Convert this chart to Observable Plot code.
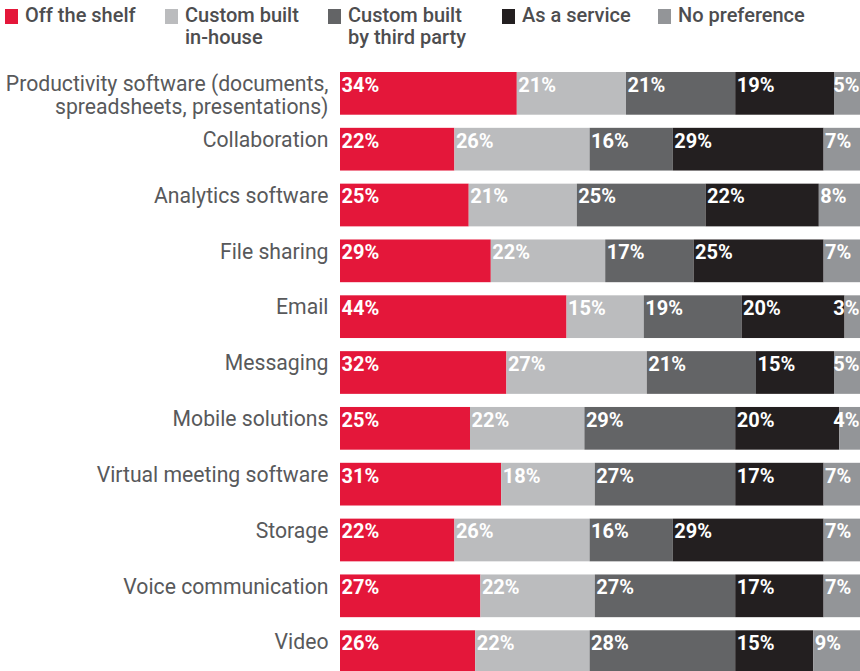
<!DOCTYPE html>
<html>
<head>
<meta charset="utf-8">
<script src="https://cdn.jsdelivr.net/npm/d3@7"></script>
<script src="https://cdn.jsdelivr.net/npm/@observablehq/plot@0.6"></script>
<style>
  html, body { margin: 0; padding: 0; background: #fff; overflow: hidden; }
  #legend { position: relative; width: 860px; height: 60px; font-family: Roboto, sans-serif; font-weight: 500; font-size: 20px; color: #4d4d4f; }
  .item { position: absolute; top: 4px; display: flex; align-items: flex-start; }
  .sw { width: 13px; height: 15px; margin-top: 5px; margin-right: 7px; flex: none; }
  .lab { line-height: 22px; white-space: pre; }
  svg { display: block; }
</style>
</head>
<body>
<div id="legend"></div>
<div id="chart"></div>
<script>
const categories = [
  "Productivity software (documents,\nspreadsheets, presentations)",
  "Collaboration",
  "Analytics software",
  "File sharing",
  "Email",
  "Messaging",
  "Mobile solutions",
  "Virtual meeting software",
  "Storage",
  "Voice communication",
  "Video"
];
const seriesNames = ["Off the shelf", "Custom built\nin-house", "Custom built\nby third party", "As a service", "No preference"];
const colors = ["#e4173a", "#bbbcbe", "#636466", "#231f20", "#939598"];
const offTheShelf   = [34, 22, 25, 29, 44, 32, 25, 31, 22, 27, 26];
const inHouse       = [21, 26, 21, 22, 15, 27, 22, 18, 26, 22, 22];
const thirdParty    = [21, 16, 25, 17, 19, 21, 29, 27, 16, 27, 28];
const asAService    = [19, 29, 22, 25, 20, 15, 20, 17, 29, 17, 15];
const noPreference  = [5, 7, 8, 7, 3, 5, 4, 7, 7, 7, 9];
const seriesValues = [offTheShelf, inHouse, thirdParty, asAService, noPreference];

const legendLeft = [5, 165, 328, 502, 658];

const data = [];
categories.forEach((c, i) => {
  seriesNames.forEach((s, j) => {
    data.push({cat: c, series: s, idx: j, value: seriesValues[j][i]});
  });
});

// legend
const leg = document.getElementById("legend");
seriesNames.forEach((s, j) => {
  const it = document.createElement("div");
  it.className = "item";
  it.style.left = legendLeft[j] + "px";
  const sw = document.createElement("div");
  sw.className = "sw";
  sw.style.background = colors[j];
  const lb = document.createElement("div");
  lb.className = "lab";
  lb.textContent = s;
  it.appendChild(sw); it.appendChild(lb);
  leg.appendChild(it);
});

const height = 613, marginTop = 12;
const paddingInner = 0.235;
const step = (height - marginTop) / (categories.length - paddingInner);
const bw = step * (1 - paddingInner);

const stackOpts = {x: "value", y: "cat", z: "series", order: "idx", offset: "normalize"};
// a label too wide for its narrow last segment is pinned to the bar's right end
const narrow = d => d.idx === seriesNames.length - 1 && d.value <= 5;
const labelStyle = {
  lineAnchor: "top",
  dy: -bw / 2 + 5,
  fill: "#fff", fontWeight: "bold", fontSize: 20
};

const chart = Plot.plot({
  width: 860,
  height,
  marginTop,
  marginBottom: 0,
  marginLeft: 340,
  marginRight: 0,
  style: {fontFamily: "Roboto, sans-serif", background: "#fff"},
  x: {domain: [0, 1], axis: null},
  y: {domain: categories, paddingInner, paddingOuter: 0, align: 0, round: false, axis: null},
  color: {domain: seriesNames, range: colors},
  marks: [
    Plot.barX(data, Plot.stackX({...stackOpts, fill: "series"})),
    Plot.text(data, Plot.stackX1({...stackOpts, ...labelStyle,
      text: d => narrow(d) ? null : d.value + "%", textAnchor: "start", dx: 1})),
    Plot.text(data, Plot.stackX2({...stackOpts, ...labelStyle,
      text: d => narrow(d) ? d.value + "%" : null, textAnchor: "end", dx: -1})),
    Plot.text(categories, {
      y: d => d, text: d => d, frameAnchor: "left",
      textAnchor: "end", lineAnchor: "top", lineHeight: 1.1,
      dx: -12, dy: -bw / 2 + 2,
      fill: "#58595b", fontSize: 21.2
    })
  ]
});
document.getElementById("chart").appendChild(chart);
</script>
</body>
</html>
